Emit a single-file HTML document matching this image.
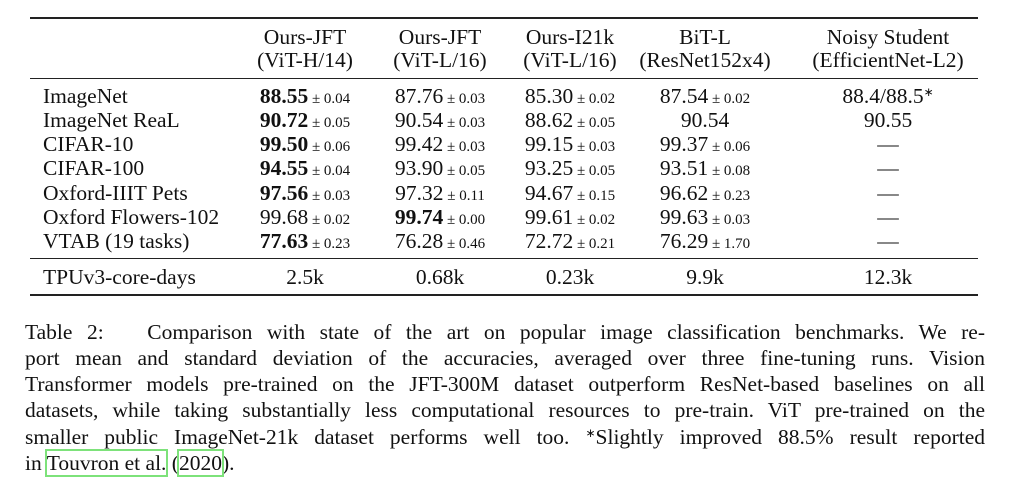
<!DOCTYPE html>
<html><head><meta charset="utf-8"><style>
body{margin:0;background:#fff;width:1024px;height:497px;position:relative;overflow:hidden;font-family:"Liberation Serif",serif;color:#111}
.r{position:absolute;left:30px;width:948px;background:#222}
.t{position:absolute;height:24px;line-height:24px;font-size:21.5px;white-space:nowrap}
.c{transform:translateX(-50%);text-align:center}
.s{font-size:15px}
b{font-weight:bold}
.sup{position:relative;top:-7px;font-size:12px;line-height:0}
.cap{position:absolute;left:25px;width:960px;height:26px;font-size:21.5px;line-height:26px;text-align:justify;text-align-last:justify;white-space:nowrap}
.cap.last{text-align-last:left}
.box{outline:2px solid #7de27a;outline-offset:0}
</style></head><body>
<div class="r" style="top:17px;height:2px"></div>
<div class="r" style="top:78px;height:1px"></div>
<div class="r" style="top:258px;height:1px"></div>
<div class="r" style="top:294px;height:2px"></div>
<div id="tbl"></div>
<div>
<div class="cap" style="top:319px">Table 2: &nbsp; Comparison with state of the art on popular image classification benchmarks. We re-</div>
<div class="cap" style="top:345px">port mean and standard deviation of the accuracies, averaged over three fine-tuning runs. Vision</div>
<div class="cap" style="top:371px">Transformer models pre-trained on the JFT-300M dataset outperform ResNet-based baselines on all</div>
<div class="cap" style="top:397px">datasets, while taking substantially less computational resources to pre-train. ViT pre-trained on the</div>
<div class="cap" style="top:424px">smaller public ImageNet-21k dataset performs well too. <span class="sup">∗</span>Slightly improved 88.5% result reported</div>
<div class="cap last" style="top:450px">in <span class="box">Touvron et al.</span> (<span class="box">2020</span>).</div>
</div>
<script>
const colX=[305,440,570,705,888];
const headers1=["Ours-JFT","Ours-JFT","Ours-I21k","BiT-L","Noisy Student"];
const headers2=["(ViT-H/14)","(ViT-L/16)","(ViT-L/16)","(ResNet152x4)","(EfficientNet-L2)"];
const rows=["ImageNet","ImageNet ReaL","CIFAR-10","CIFAR-100","Oxford-IIIT Pets","Oxford Flowers-102","VTAB (19 tasks)"];
const rowY=[96,120,144,168,193,217,241];
const vals=[
["**88.55|0.04","87.76|0.03","85.30|0.02","87.54|0.02","88.4/88.5<span class='sup'>∗</span>"],
["**90.72|0.05","90.54|0.03","88.62|0.05","90.54","90.55"],
["**99.50|0.06","99.42|0.03","99.15|0.03","99.37|0.06","—"],
["**94.55|0.04","93.90|0.05","93.25|0.05","93.51|0.08","—"],
["**97.56|0.03","97.32|0.11","94.67|0.15","96.62|0.23","—"],
["99.68|0.02","**99.74|0.00","99.61|0.02","99.63|0.03","—"],
["**77.63|0.23","76.28|0.46","72.72|0.21","76.29|1.70","—"]];
const tpu=["2.5k","0.68k","0.23k","9.9k","12.3k"];
const root=document.getElementById('tbl');
function add(html,x,y,center,name){
 const d=document.createElement('div');
 
 
 d.className='t'+(center?' c':'');
 d.style.left=x+'px';d.style.top=(y-12)+'px';d.innerHTML=html;root.appendChild(d);
}
function fmt(v){
 let bold=v.startsWith('**');if(bold)v=v.slice(2);
 const p=v.split('|');let m=bold?'<b>'+p[0]+'</b>':p[0];
 if(p[1])m+='<span class="s"> ± '+p[1]+'</span>';return m;
}
headers1.forEach((h,i)=>add(h,colX[i],37,true,'header-'+i));
headers2.forEach((h,i)=>add(h,colX[i],60,true,'header-sub-'+i));
rows.forEach((r,j)=>{
 add(r,43,rowY[j],false,'row-label');
 vals[j].forEach((v,i)=>add(fmt(v),colX[i],rowY[j],true,'cell'));
});
add('TPUv3-core-days',43,277,false,'row-label-tpu');
tpu.forEach((v,i)=>add(v,colX[i],277,true,'cell-tpu'));
</script>
</body></html>
